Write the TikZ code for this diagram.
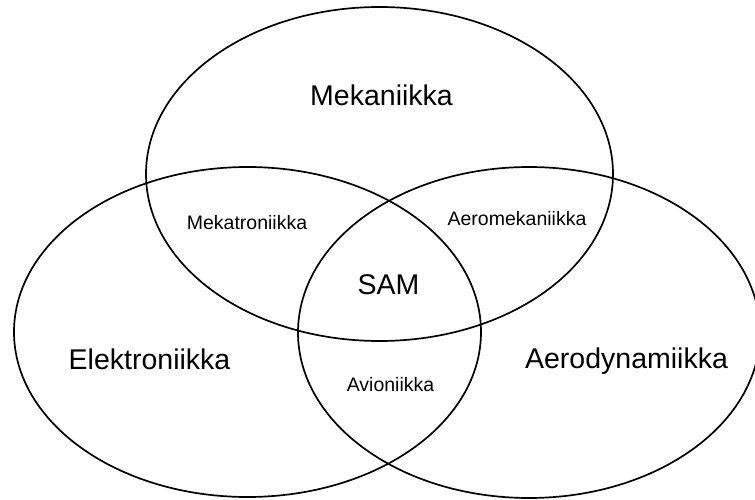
\documentclass[tikz,border=0pt]{standalone}
\usepackage{fontspec}
\setmainfont{Liberation Sans}
\begin{document}
\begin{tikzpicture}[x=1pt,y=1pt,
  setline/.style={line width=1.7pt,black},
  biglabel/.style={anchor=base,inner sep=0pt,font=\fontsize{28.5}{30}\selectfont},
  smalllabel/.style={anchor=base,inner sep=0pt,font=\fontsize{19.5}{21}\selectfont}]
\useasboundingbox (0,0) rectangle (755,499);
\fill[white] (0,0) rectangle (755,499);
\clip (0,0) rectangle (755,499);
\draw[setline] (379.5,325) ellipse [x radius=233.5, y radius=167];
\draw[setline] (247.5,167) ellipse [x radius=233.5, y radius=165];
\draw[setline] (529,166.5) ellipse [x radius=231, y radius=165.5];
\node[biglabel] (mek) at (381.5,393) {Mekaniikka};
\node[biglabel] (ele) at (149.5,130) {Elektroniikka};
\node[biglabel] (aero) at (626.5,131) {Aerodynamiikka};
\node[biglabel] (sam) at (388.5,205) {SAM};
\node[smalllabel] (mekat) at (247,270) {Mekatroniikka};
\node[smalllabel] (aeromek) at (517,274) {Aeromekaniikka};
\node[smalllabel] (avio) at (390.5,108) {Avioniikka};
\end{tikzpicture}
\end{document}
